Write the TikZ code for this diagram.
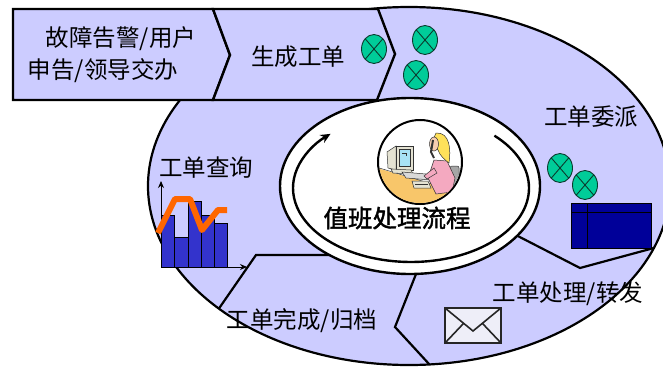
\documentclass[tikz,border=0pt]{standalone}
\usepackage{fontspec}
\newfontfamily\cjk{Noto Sans CJK SC}
\newfontfamily\cjkbold[FakeBold=1.6]{Noto Sans CJK SC}
\usetikzlibrary{arrows.meta,calc,shapes.geometric}

\definecolor{ringfill}{HTML}{CCCCFF}
\definecolor{tokenfill}{HTML}{00CC99}
\definecolor{tokenline}{HTML}{0B3B2E}
\definecolor{winblue}{HTML}{000099}
\definecolor{barblue}{HTML}{3333CC}
\definecolor{trendorange}{HTML}{FF6600}
\definecolor{envfill}{HTML}{EEEEF8}
\definecolor{deskorange}{HTML}{F8C66A}
\definecolor{screenblue}{HTML}{A8E2F5}
\definecolor{casebeige}{HTML}{E4E2D2}
\definecolor{hairyellow}{HTML}{FFE15A}
\definecolor{shirtpink}{HTML}{F4A9C0}
\definecolor{skin}{HTML}{F6CDB0}

\tikzset{
  band/.style={draw=black, line width=2.4pt, fill=ringfill, line join=miter},
  divider/.style={draw=black, line width=2.2pt, line join=miter},
  lbl/.style={font=\cjk\fontsize{23.5}{28}\selectfont, inner sep=0pt},
  title/.style={font=\cjkbold\fontsize{24.5}{30}\selectfont, inner sep=0pt},
  token/.style={ellipse, draw=tokenline, fill=tokenfill, line width=0.9pt,
    minimum width=25pt, minimum height=29pt, inner sep=0pt,
    path picture={\draw[tokenline, line width=0.9pt]
      (path picture bounding box.north west) -- (path picture bounding box.south east)
      (path picture bounding box.north east) -- (path picture bounding box.south west);}},
  bar/.style={draw=black, line width=0.8pt, fill=barblue},
  axis/.style={draw=black, line width=0.9pt, -{Stealth[length=7pt,width=6pt]}},
  trend/.style={draw=trendorange, line width=6pt, line join=round},
  thin/.style={draw=black!80, line width=0.5pt}
}

\begin{document}
\begin{tikzpicture}[x=1pt, y=-1pt]
\clip (0,0) rectangle (663,369);
\fill[white] (0,0) rectangle (663,369);

% outer ring and its dividers
\coordinate (ringc) at (409,186);
\fill[ringfill] (ringc) ellipse[x radius=261, y radius=179];
\begin{scope}
  \clip (ringc) ellipse[x radius=261, y radius=179];
  \draw[divider] (342,255) -- (256,255) -- (211,320);
  \draw[divider] (420,264) -- (395,327) -- (441,377);
  \draw[divider] (510,232) -- (580,268) -- (676,242);
\end{scope}
\draw[black, line width=2.2pt] (ringc) ellipse[x radius=261, y radius=179];

% entry banner
\draw[band] (13,9) -- (213,9) -- (230,55) -- (213,100) -- (13,100) -- cycle;
\draw[band] (213,9) -- (378,9) -- (395,54) -- (377,100) -- (213,100) -- (230,55) -- cycle;

% centre hub
\coordinate (hubc) at (410,186);
\draw[black, line width=2.4pt, fill=white] (hubc) ellipse[x radius=130, y radius=88];
\coordinate (loopc) at (411,188);
\draw[black, line width=2.4pt, -{Stealth[length=10pt,width=9pt]}]
  ($(loopc)+(-45:118 and 74)$) arc[start angle=-45, end angle=227, x radius=118, y radius=74];

% duty operator badge
\node[circle, draw=black, line width=2pt, fill=white, minimum size=84pt, inner sep=0pt] (duty) at (420,162) {};
\begin{scope}
  \clip (duty.center) circle[radius=41];
  \fill[deskorange] (370,166) -- (452,190) -- (455,215) -- (370,215) -- cycle;
  \draw[thin] (376,167) -- (452,190) -- (454,205);
  % monitor
  \draw[thin, fill=casebeige] (387,152) -- (396,146) -- (396,170) -- (388,168) -- cycle;
  \draw[thin, fill=casebeige] (396,146) rectangle (413,170);
  \draw[thin, fill=screenblue] (399,149) rectangle (410,166);
  \draw[thin] (402,153) -- (406,153) -- (406,156);
  \draw[thin, fill=casebeige] (391,169) -- (411,170) -- (413,174) -- (393,173) -- cycle;
  % keyboard and tray
  \draw[thin, fill=black!15] (402,172) -- (426,174) -- (431,180) -- (406,178) -- cycle;
  \draw[thin, fill=casebeige] (412,181) -- (428,181) -- (431,188) -- (414,188) -- cycle;
  \draw[thin] (415,184) -- (428,184);
  % chair, operator
  \draw[thin, fill=black!35, rounded corners=2pt] (450,166) rectangle (459,186);
  \draw[thin, fill=shirtpink] (434,160) -- (447,161) -- (455,178) -- (452,192) -- (436,194) -- (428,178) -- cycle;
  \draw[thin, fill=shirtpink] (434,168) -- (424,176) -- (427,179) -- (437,173) -- cycle;
  \draw[thin, fill=hairyellow] (436,133) .. controls (450,132) and (451,150) .. (449,163)
    .. controls (445,160) and (440,156) .. (438,150) .. controls (434,148) and (432,138) .. (436,133);
  \draw[thin, fill=skin] (434,144) ellipse[x radius=4.5, y radius=7];
  \draw[black!80, line width=2pt] (433,140) -- (431,152) -- (434,158);
\end{scope}

% step labels
\node[lbl] (alarm1) at (121,39) {故障告警/用户};
\node[lbl] (alarm2) at (103,71) {申告/领导交办};
\node[lbl] (create) at (298,57) {生成工单};
\node[lbl] (assign) at (591,117) {工单委派};
\node[lbl] (query) at (206,168) {工单查询};
\node[lbl] (handle) at (568,294) {工单处理/转发};
\node[lbl] (close) at (302,321) {工单完成/归档};
\node[title] (flow) at (397,218) {值班处理流程};

% work-order tokens
\node[token] (tokA) at (374,49) {};
\node[token] (tokB) at (425,40) {};
\node[token] (tokC) at (416,75) {};
\node[token] (tokD) at (560,168) {};
\node[token] (tokE) at (585,185) {};

% dispatch window
\draw[black, line width=1pt, fill=winblue] (571,203) rectangle (651,248);
\draw[black, line width=1pt] (571,212) -- (651,212) (587,203) -- (587,248);

% mail envelope
\draw[black!85, line width=1.8pt, fill=envfill] (445,308) rectangle (501,343);
\draw[black!85, line width=1.6pt] (445,308) -- (473,331) -- (501,308)
  (445,343) -- (463,324) (501,343) -- (483,324);

% query chart
\draw[bar] (161,267) rectangle (174,215);
\draw[bar] (174,267) rectangle (188,237);
\draw[bar] (188,267) rectangle (201,201);
\draw[bar] (201,267) rectangle (214,215);
\draw[bar] (214,267) rectangle (227,223);
\draw[axis] (161,267) -- (161,181);
\draw[axis] (161,267) -- (247,267);
\draw[trend] (158,233) -- (175,199) -- (190,199) -- (202,230) -- (218,210) -- (227,210);
\end{tikzpicture}
\end{document}
